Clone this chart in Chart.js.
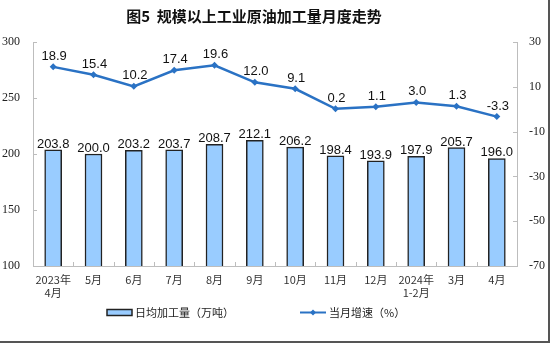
<!DOCTYPE html>
<html><head><meta charset="utf-8">
<script src="https://cdn.jsdelivr.net/npm/chart.js@4"></script>
<style>html,body{margin:0;padding:0;background:#fff}#wrap{width:550px;height:343px;position:relative}</style>
</head><body><div id="wrap"><canvas id="c" width="550" height="343"></canvas></div>
<script>
const TITLE = '图5  规模以上工业原油加工量月度走势';
const categories = [['2023年','4月'],'5月','6月','7月','8月','9月','10月','11月','12月',['2024年','1-2月'],'3月','4月'];
const dailyOutput = [203.8,200.0,203.2,203.7,208.7,212.1,206.2,198.4,193.9,197.9,205.7,196.0];
const growthRate = [18.9,15.4,10.2,17.4,19.6,12.0,9.1,0.2,1.1,3.0,1.3,-3.3];
const leftTicks = [100,150,200,250,300];
const rightTicks = [-70,-50,-30,-10,10,30];
const seriesNames = ['日均加工量（万吨）','当月增速（%）'];

const BAR_FILL = '#99CCFF', BAR_EDGE = '#222222', LINE_COLOR = '#2A72C4', AXIS = '#bdbdbd';
const CJK = '"Noto Sans CJK SC", "Noto Sans", sans-serif';
const SERIF = '"Liberation Serif", "Times New Roman", serif';
const SANS = '"Liberation Sans", Arial, sans-serif';

const decor = {
  id: 'decor',
  beforeDraw(chart) {
    const ctx = chart.ctx;
    ctx.save();
    ctx.fillStyle = '#fff';
    ctx.fillRect(0, 0, chart.width, chart.height);
    ctx.restore();
  },
  beforeDatasetsDraw(chart) {
    const ctx = chart.ctx, {x, y, y1} = chart.scales;
    ctx.save();
    ctx.strokeStyle = AXIS; ctx.lineWidth = 1;
    ctx.beginPath();
    y.ticks.forEach(t => { const p = Math.round(y.getPixelForValue(t.value)) + 0.5; ctx.moveTo(y.right, p); ctx.lineTo(y.right + 4, p); });
    y1.ticks.forEach(t => { const p = Math.round(y1.getPixelForValue(t.value)) + 0.5; ctx.moveTo(y1.left, p); ctx.lineTo(y1.left - 4, p); });
    for (let i = 1; i < categories.length; i++) {
      const p = Math.round((x.getPixelForValue(i - 1) + x.getPixelForValue(i)) / 2) + 0.5;
      ctx.moveTo(p, x.top); ctx.lineTo(p, x.top - 4);
    }
    ctx.stroke();
    ctx.restore();
  },
  afterDraw(chart) {
    const ctx = chart.ctx;
    ctx.save();
    // labels
    const barMeta = chart.getDatasetMeta(0), lineMeta = chart.getDatasetMeta(1);
    ctx.fillStyle = '#111'; ctx.font = '13px ' + SANS; ctx.textAlign = 'center'; ctx.textBaseline = 'alphabetic';
    barMeta.data.forEach((el, i) => ctx.fillText(dailyOutput[i].toFixed(1), el.x, el.y - 2));
    lineMeta.data.forEach((el, i) => ctx.fillText(growthRate[i].toFixed(1), el.x + 1, el.y - 7));
    // title
    ctx.font = 'bold 15px ' + CJK; ctx.textBaseline = 'middle'; ctx.fillStyle = '#111';
    ctx.fillText(TITLE, 254, 16);
    // legend
    const ly = 312.5;
    ctx.fillStyle = BAR_FILL; ctx.strokeStyle = BAR_EDGE; ctx.lineWidth = 1.5;
    ctx.fillRect(107, ly - 3, 25, 6); ctx.strokeRect(107, ly - 3, 25, 6);
    ctx.font = '11px ' + CJK; ctx.fillStyle = '#222'; ctx.textAlign = 'left';
    ctx.fillText(seriesNames[0], 135, ly);
    ctx.strokeStyle = LINE_COLOR; ctx.lineWidth = 2;
    ctx.beginPath(); ctx.moveTo(300, ly); ctx.lineTo(326, ly); ctx.stroke();
    ctx.fillStyle = LINE_COLOR; ctx.beginPath();
    ctx.moveTo(313, ly - 3); ctx.lineTo(316, ly); ctx.lineTo(313, ly + 3); ctx.lineTo(310, ly); ctx.closePath(); ctx.fill();
    ctx.fillStyle = '#222'; ctx.fillText(seriesNames[1], 329, ly);
    // frame edge
    ctx.strokeStyle = '#555'; ctx.lineWidth = 2;
    ctx.beginPath(); ctx.moveTo(0, chart.height - 1); ctx.lineTo(chart.width - 1, chart.height - 1); ctx.lineTo(chart.width - 1, 0); ctx.stroke();
    ctx.restore();
  }
};

new Chart(document.getElementById('c'), {
  data: {
    labels: categories,
    datasets: [
      { type: 'bar', label: seriesNames[0], data: dailyOutput, yAxisID: 'y', backgroundColor: BAR_FILL, borderColor: BAR_EDGE, borderWidth: 1.5, barThickness: 17, order: 2 },
      { type: 'line', label: seriesNames[1], data: growthRate, yAxisID: 'y1', borderColor: LINE_COLOR, backgroundColor: LINE_COLOR, borderWidth: 2.5, tension: 0, pointStyle: 'rectRot', pointRadius: 3.5, pointBorderWidth: 0, order: 1 }
    ]
  },
  options: {
    responsive: false, animation: false, devicePixelRatio: 1,
    layout: { padding: { top: 42, bottom: 0, left: 0, right: 0 } },
    plugins: { legend: { display: false }, title: { display: false }, tooltip: { enabled: false } },
    scales: {
      x: {
        offset: true,
        grid: { display: false, drawTicks: false },
        border: { display: true, color: AXIS, width: 1 },
        ticks: { font: { family: CJK, size: 11 }, color: '#333', padding: 7, maxRotation: 0, autoSkip: false },
        afterFit: s => { s.height = 77; }
      },
      y: {
        position: 'left', min: 100, max: 300,
        grid: { display: false, drawTicks: false },
        border: { display: true, color: AXIS, width: 1 },
        ticks: { font: { family: SERIF, size: 12 }, color: '#222', padding: 13 },
        afterBuildTicks: s => { s.ticks = leftTicks.map(v => ({ value: v })); },
        afterFit: s => { s.width = 33; }
      },
      y1: {
        position: 'right', min: -70, max: 30,
        grid: { display: false, drawTicks: false },
        border: { display: true, color: AXIS, width: 1 },
        ticks: { font: { family: SERIF, size: 12 }, color: '#222', padding: 12 },
        afterBuildTicks: s => { s.ticks = rightTicks.map(v => ({ value: v })); },
        afterFit: s => { s.width = 33; }
      }
    }
  },
  plugins: [decor]
});
</script>
</body></html>
